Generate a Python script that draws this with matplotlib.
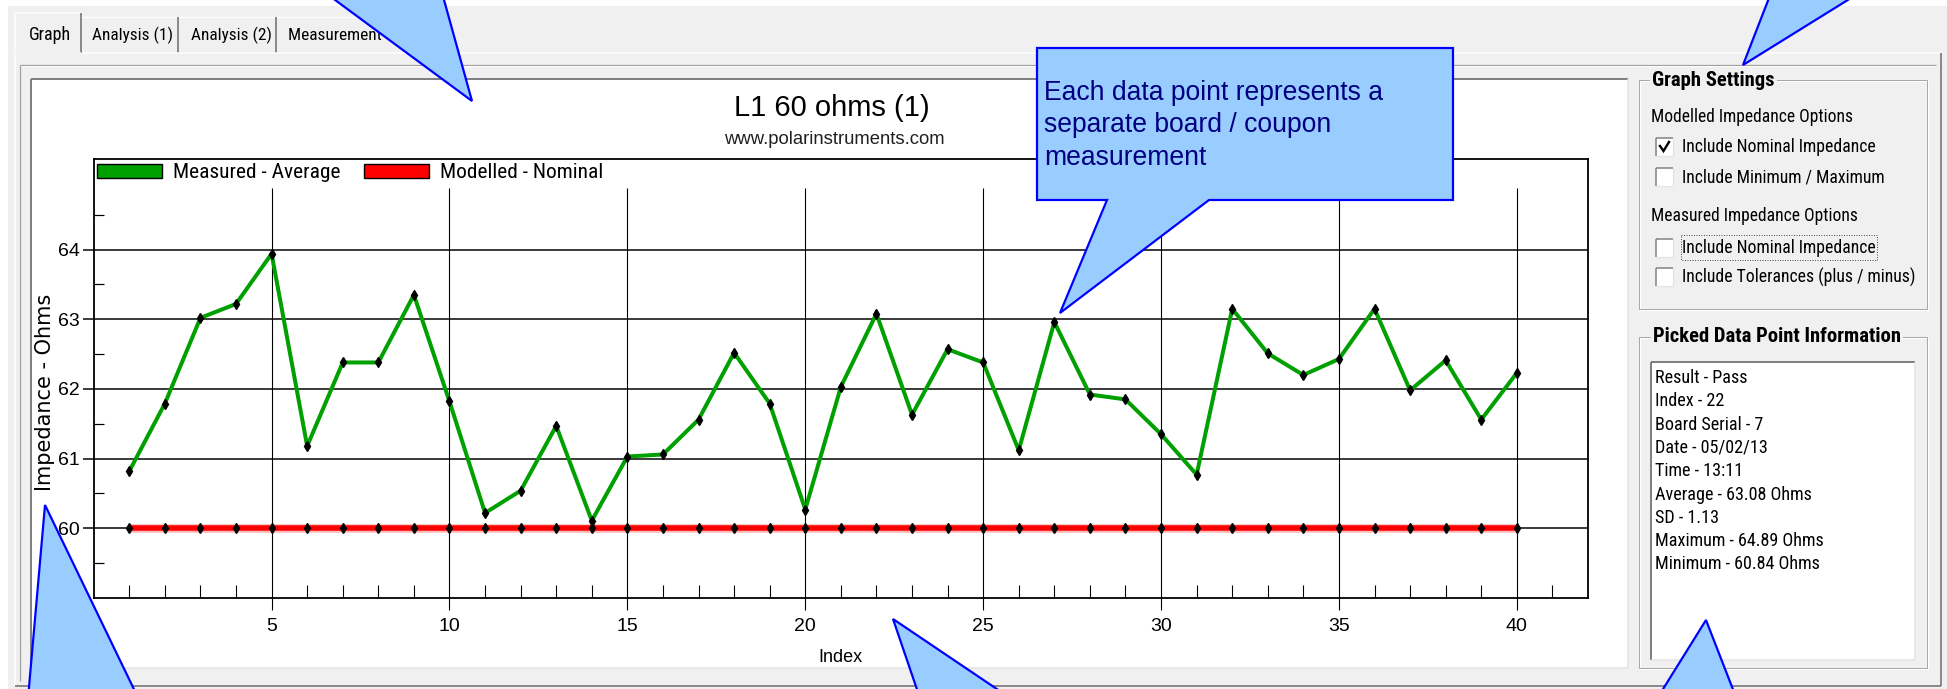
import matplotlib
matplotlib.use("Agg")
import matplotlib.pyplot as plt
from matplotlib.patches import Rectangle, Polygon, Patch
from matplotlib import font_manager as fm

_names = {f.name for f in fm.fontManager.ttflist}


def pick_narrow():
    prefs = ["Liberation Sans Narrow", "Arial Narrow", "Roboto Condensed",
             "DejaVu Sans Condensed", "Open Sans Condensed", "Noto Sans Condensed"]
    for p in prefs:
        if p in _names:
            return p, "normal"
    for f in fm.fontManager.ttflist:
        if f.name in ("Noto Sans", "Open Sans", "Roboto", "Liberation Sans", "Lato",
                      "Inter") and str(f.stretch) in ("condensed", "semi-condensed"):
            return f.name, f.stretch
    return "Liberation Sans", "normal"


NARROW, NSTRETCH = pick_narrow()
SANS = "Liberation Sans"

# ---------------- data ----------------
index = [1, 2, 3, 4, 5, 6, 7, 8, 9, 10, 11, 12, 13, 14, 15, 16, 17, 18, 19, 20,
         21, 22, 23, 24, 25, 26, 27, 28, 29, 30, 31, 32, 33, 34, 35, 36, 37, 38, 39, 40]
measured_average = [60.82, 61.79, 63.02, 63.22, 63.94, 61.18, 62.38, 62.38, 63.35, 61.82,
                    60.22, 60.54, 61.47, 60.11, 61.03, 61.06, 61.56, 62.52, 61.79, 60.27,
                    62.03, 63.08, 61.63, 62.57, 62.38, 61.12, 62.96, 61.92, 61.85, 61.35,
                    60.77, 63.15, 62.51, 62.20, 62.43, 63.15, 61.98, 62.41, 61.56, 62.23]
modelled_nominal = [60.0, 60.0, 60.0, 60.0, 60.0, 60.0, 60.0, 60.0, 60.0, 60.0,
                    60.0, 60.0, 60.0, 60.0, 60.0, 60.0, 60.0, 60.0, 60.0, 60.0,
                    60.0, 60.0, 60.0, 60.0, 60.0, 60.0, 60.0, 60.0, 60.0, 60.0,
                    60.0, 60.0, 60.0, 60.0, 60.0, 60.0, 60.0, 60.0, 60.0, 60.0]
y_ticks = [60, 61, 62, 63, 64]
x_ticks = [5, 10, 15, 20, 25, 30, 35, 40]
series_labels = ["Measured - Average", "Modelled - Nominal"]
chart_title = "L1 60 ohms (1)"
chart_subtitle = "www.polarinstruments.com"
x_label = "Index"
y_label = "Impedance - Ohms"
tab_labels = ["Graph", "Analysis (1)", "Analysis (2)", "Measurement Data"]
modelled_options = ["Include Nominal Impedance", "Include Minimum / Maximum"]
modelled_checked = [True, False]
measured_options = ["Include Nominal Impedance", "Include Tolerances (plus / minus)"]
measured_checked = [False, False]
picked_info = ["Result - Pass", "Index - 22", "Board Serial - 7", "Date - 05/02/13",
               "Time - 13:11", "Average - 63.08 Ohms", "SD - 1.13",
               "Maximum - 64.89 Ohms", "Minimum - 60.84 Ohms"]
callout_text = ["Each data point represents a", "separate board / coupon", "measurement"]

# ---------------- figure ----------------
W, H = 1947, 689
fig = plt.figure(figsize=(W / 100, H / 100), dpi=100)
fig.patch.set_facecolor("white")
renderer = fig.canvas.get_renderer()

bg = fig.add_axes([0, 0, 1, 1])
bg.set_xlim(0, W)
bg.set_ylim(H, 0)
bg.axis("off")

PX = 0.72  # points per pixel
GRAY = "#F0F0F0"


def text_width(s, size, **kw):
    t = fig.text(0, 0, s, fontsize=size, **kw)
    w = t.get_window_extent(renderer).width
    t.remove()
    return w


def fit_size(s, target_px, size0, **kw):
    return size0 * target_px / text_width(s, size0, **kw)


def nkw(**extra):
    d = dict(family=NARROW, stretch=NSTRETCH)
    d.update(extra)
    return d


def line(ax, xs, ys, c, lw=1.0, z=2):
    ax.plot(xs, ys, color=c, lw=lw * PX, zorder=z, solid_capstyle="butt")


def rect(ax, x0, y0, x1, y1, fc="none", ec="none", lw=1.0, z=1, ls="-"):
    ax.add_patch(Rectangle((x0, y0), x1 - x0, y1 - y0, facecolor=fc, edgecolor=ec,
                           lw=lw * PX, zorder=z, linestyle=ls))


def raised(ax, x0, y0, x1, y1, z=2):
    line(ax, [x0, x1], [y0, y0], "white", 1.5, z)
    line(ax, [x0, x0], [y0, y1], "white", 1.5, z)
    line(ax, [x1, x1], [y0, y1], "#696969", 1.5, z)
    line(ax, [x0, x1], [y1, y1], "#696969", 1.5, z)


def sunken(ax, x0, y0, x1, y1, z=2):
    line(ax, [x0, x1], [y0, y0], "#808080", 2, z)
    line(ax, [x0, x0], [y0, y1], "#808080", 2, z)
    line(ax, [x1, x1], [y0, y1], "#E3E3E3", 1.5, z)
    line(ax, [x0, x1], [y1, y1], "#E3E3E3", 1.5, z)


def etched(ax, x0, y0, x1, y1, z=2):
    rect(ax, x0 + 1, y0 + 1, x1 + 1, y1 + 1, ec="white", lw=1, z=z)
    rect(ax, x0, y0, x1, y1, ec="#A8A8A8", lw=1, z=z)


# window background
rect(bg, 8, 6, W, H, fc=GRAY, z=0)

# tabs
rect(bg, 15, 13, 81, 55, fc=GRAY, z=3)
line(bg, [15, 81], [13, 13], "white", 1.5, 4)
line(bg, [15, 15], [13, 53], "white", 1.5, 4)
line(bg, [81, 81], [13, 53], "#696969", 1.5, 4)
line(bg, [81, 400], [17, 17], "white", 1.2, 2)
for sx in [178, 276]:
    line(bg, [sx, sx], [17, 53], "#696969", 1.5, 2)
tab_x = [29, 92, 191, 288]
tab_size_a = fit_size(tab_labels[1], 80, 13, **nkw())
tab_size_g = fit_size(tab_labels[0], 42, 13, **nkw())
for k, (tx, lab) in enumerate(zip(tab_x, tab_labels)):
    bg.text(tx, 35, lab, ha="left", va="center", fontsize=(tab_size_g if k == 0 else tab_size_a),
            color="black", zorder=5, **nkw())

# tab panel
raised(bg, 15, 53, 1941, 686)
line(bg, [15, 81], [53, 53], GRAY, 2, 4)
line(bg, [20, 1936], [65, 65], "#A0A0A0", 1.2, 2)
line(bg, [20, 20], [65, 681], "#A0A0A0", 1.2, 2)
line(bg, [21, 1936], [66, 66], "white", 1.0, 2)

# graph white panel
rect(bg, 31, 79, 1628, 668, fc="white", z=1)
sunken(bg, 31, 79, 1628, 668)

bg.text(832, 108, chart_title, ha="center", va="center", family=SANS, fontsize=21)
bg.text(834, 140, chart_subtitle, ha="center", va="center", family=SANS, fontsize=13.3,
        color="#202020")

# right panel : Graph Settings
etched(bg, 1639, 80, 1927, 309)
gs_size = fit_size("Graph Settings", 123, 14, **nkw(fontweight="bold"))
bg.text(1652, 80, "Graph Settings", ha="left", va="center", fontsize=gs_size, zorder=5,
        bbox=dict(fc=GRAY, ec="none", pad=1.5), **nkw(fontweight="bold"))
grp_size = fit_size("Modelled Impedance Options", 202, 13, **nkw())
bg.text(1651, 117, "Modelled Impedance Options", ha="left", va="center",
        fontsize=grp_size, **nkw())
bg.text(1651, 216, "Measured Impedance Options", ha="left", va="center",
        fontsize=grp_size, **nkw())
cb_size = fit_size(measured_options[1], 233, 13, **nkw())


def checkbox(y, lab, checked, focus=False):
    x0 = 1656
    rect(bg, x0, y - 9, x0 + 17, y + 9, fc="white", z=3)
    line(bg, [x0, x0 + 17], [y - 9, y - 9], "#808080", 1.5, 4)
    line(bg, [x0, x0], [y - 9, y + 9], "#808080", 1.5, 4)
    line(bg, [x0 + 17, x0 + 17], [y - 9, y + 9], "#E3E3E3", 1.2, 4)
    line(bg, [x0, x0 + 17], [y + 9, y + 9], "#E3E3E3", 1.2, 4)
    if checked:
        bg.plot([x0 + 4, x0 + 7.5, x0 + 13], [y - 1, y + 4, y - 5], color="black",
                lw=2.4 * PX, zorder=5, solid_joinstyle="miter")
    t = bg.text(1682, y, lab, ha="left", va="center", fontsize=cb_size, zorder=5, **nkw())
    if focus:
        w = t.get_window_extent(renderer).width
        rect(bg, 1681, y - 13, 1682 + w + 1, y + 12, ec="#505050", lw=1, z=5,
             ls=(0, (1, 1.5)))


for yy, lab, ck in zip([147, 177], modelled_options, modelled_checked):
    checkbox(yy, lab, ck)
for k, (yy, lab, ck) in enumerate(zip([248, 277], measured_options, measured_checked)):
    checkbox(yy, lab, ck, focus=(k == 0))

# right panel : picked data point
etched(bg, 1639, 337, 1927, 668)
pk_size = fit_size("Picked Data Point Information", 249, 14, **nkw(fontweight="bold"))
bg.text(1653, 337, "Picked Data Point Information", ha="left", va="center",
        fontsize=pk_size, zorder=5, bbox=dict(fc=GRAY, ec="none", pad=1.5),
        **nkw(fontweight="bold"))
rect(bg, 1651, 362, 1915, 660, fc="white", z=2)
sunken(bg, 1651, 362, 1915, 660, z=3)
info_size = fit_size(picked_info[5], 157, 13, **nkw())
for i, s in enumerate(picked_info):
    bg.text(1655, 378 + i * 23.3, s, ha="left", va="center", fontsize=info_size,
            zorder=5, **nkw())

# ---------------- chart axes ----------------
L, R, T, B = 93.7, 1588, 159, 598
ax = fig.add_axes([L / W, (H - B) / H, (R - L) / W, (B - T) / H], zorder=2)
ax.set_facecolor("white")
ax.set_xlim(0, 42)
ax.set_ylim(59, 65.3)

for yv in y_ticks:
    ax.axhline(yv, color="black", lw=1.5 * PX, zorder=1)
ax.vlines(x_ticks, 59, 64.89, color="black", lw=1.1 * PX, zorder=1)

ax.plot(index, modelled_nominal, color="#FFB8B8", lw=8.5 * PX, zorder=2,
        solid_capstyle="butt")
ax.plot(index, modelled_nominal, color="#FF0000", lw=5.5 * PX, zorder=2,
        solid_capstyle="butt")
ax.plot(index, measured_average, color="#00A000", lw=4 * PX, zorder=3,
        solid_joinstyle="round")
ax.plot(index, modelled_nominal, ls="none", marker="d", color="black",
        markersize=7.5 * PX, zorder=4)
ax.plot(index, measured_average, ls="none", marker="d", color="black",
        markersize=7.5 * PX, zorder=4)

ax.set_yticks(y_ticks)
ax.set_yticks([59.5, 60.5, 61.5, 62.5, 63.5, 64.5], minor=True)
ax.set_xticks(x_ticks)
ax.set_xticks(index + [41], minor=True)
ax.set_yticklabels([str(v) for v in y_ticks], family=SANS, fontsize=14)
ax.set_xticklabels([str(v) for v in x_ticks], family=SANS, fontsize=14)
ax.tick_params(axis="y", which="major", direction="out", length=11 * PX,
               width=1.5 * PX, pad=2)
ax.tick_params(axis="y", which="minor", direction="in", length=10 * PX,
               width=1.2 * PX)
ax.tick_params(axis="x", which="major", direction="out", length=12 * PX,
               width=1.1 * PX, pad=8 * PX)
ax.tick_params(axis="x", which="minor", direction="in", length=13 * PX,
               width=1.1 * PX)
for sp in ax.spines.values():
    sp.set_color("black")
    sp.set_linewidth(1.8 * PX)

ax.set_xlabel(x_label, family=SANS, fontsize=13, va="center")
ax.xaxis.set_label_coords(0.5, (B - 657) / (B - T))
ax.set_ylabel(y_label, family="DejaVu Sans", fontsize=15, va="center", ha="center")
ax.yaxis.set_label_coords((45 - L) / (R - L), (B - 392) / (B - T))

leg_size = fit_size(series_labels[0], 168, 16, **nkw())
leg_px = leg_size / PX
handles = [Patch(facecolor="#00A000", edgecolor="black", lw=1.4 * PX),
           Patch(facecolor="#FF0000", edgecolor="black", lw=1.4 * PX)]
ax.legend(handles=handles, labels=series_labels, loc="upper left",
          bbox_to_anchor=(0.002, 0.99), ncol=2, frameon=False,
          prop=fm.FontProperties(family=NARROW, stretch=NSTRETCH, size=leg_size),
          handlelength=65 / leg_px, handleheight=13 / leg_px,
          handletextpad=11 / leg_px, columnspacing=24 / leg_px,
          borderaxespad=0, borderpad=0)

# ---------------- callouts (overlay) ----------------
top = fig.add_axes([0, 0, 1, 1], zorder=10)
top.set_xlim(0, W)
top.set_ylim(H, 0)
top.axis("off")
top.patch.set_alpha(0)

FILL = "#99CCFF"
EDGE = "#0000FF"


def callout(pts):
    top.add_patch(Polygon(pts, closed=True, facecolor=FILL, edgecolor=EDGE,
                          lw=2.2 * PX, joinstyle="miter"))


callout([(308, -20), (472, 101), (438.5, -20)])
callout([(1776, -20), (1743, 65), (1880, -20)])
callout([(27, 710), (45, 505), (144, 710)])
callout([(924, 710), (893, 619), (1028, 710)])
callout([(1650, 710), (1706, 620), (1741, 710)])
callout([(1037, 48), (1453, 48), (1453, 200), (1209, 200), (1060, 313),
         (1107, 200), (1037, 200)])
co_size = fit_size(callout_text[0], 339, 18, family=SANS)
for i, s in enumerate(callout_text):
    top.text(1044, 93 + i * 32.5, s, ha="left", va="center", family=SANS,
             fontsize=co_size, color="#000080")

fig.savefig("out.png", dpi=100)
